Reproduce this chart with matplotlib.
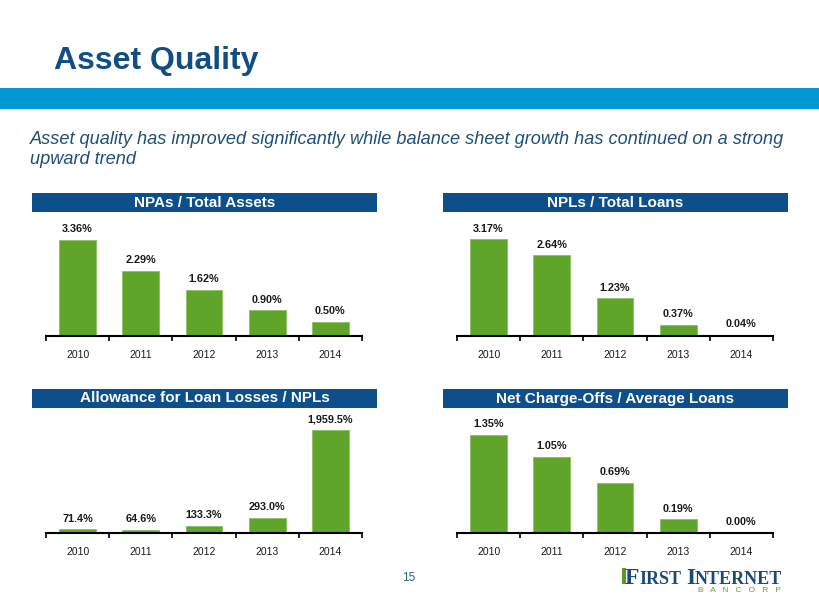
import matplotlib
matplotlib.use("Agg")
import matplotlib.pyplot as plt
from matplotlib.patches import Rectangle

# data
years = ["2010", "2011", "2012", "2013", "2014"]
npa_assets = [3.36, 2.29, 1.62, 0.90, 0.50]
npl_loans = [3.17, 2.64, 1.23, 0.37, 0.04]
allowance_npl = [71.4, 64.6, 133.3, 293.0, 1959.5]
nco_loans = [1.35, 1.05, 0.69, 0.19, 0.00]

panel_titles = ["NPAs / Total Assets", "NPLs / Total Loans",
                "Allowance for Loan Losses / NPLs", "Net Charge-Offs / Average Loans"]
panel_values = [npa_assets, npl_loans, allowance_npl, nco_loans]
panel_fmt = ["{:.2f}%", "{:.2f}%", "{:,.1f}%", "{:.2f}%"]
panel_ymax = [3.99, 3.73, 2169, 1.57]

W, H = 820, 615
NAVY = "#0D4F8B"
GREEN = "#5FA52A"
TITLE_BLUE = "#114E84"

plt.rcParams["font.family"] = ["Liberation Sans", "DejaVu Sans"]

fig = plt.figure(figsize=(W / 100, H / 100), dpi=100)


def fx(x):
    return x / W


def fy(y):
    return 1 - y / H


# title and band
fig.text(fx(54), fy(69), "Asset Quality", fontsize=23, fontweight="bold",
         color=TITLE_BLUE, va="baseline", ha="left")
fig.add_artist(Rectangle((0, fy(109)), 1, (109 - 88) / H, transform=fig.transFigure,
                         color="#0099D4", lw=0))

fig.text(fx(30), fy(144), "Asset quality has improved significantly while balance sheet growth has continued on a strong",
         fontsize=13.1, style="italic", color="#1F4E79", va="baseline")
fig.text(fx(30), fy(164), "upward trend",
         fontsize=13.1, style="italic", color="#1F4E79", va="baseline")

# panels: (axis left, baseline, header top)
layout = [(46, 336, 193), (457, 336, 193), (46, 533, 389), (457, 533, 389)]

for i, (x0, base, htop) in enumerate(layout):
    # header box
    fig.add_artist(Rectangle((fx(x0 - 14), fy(htop + 19)), 345 / W, 19 / H,
                             transform=fig.transFigure, color=NAVY, lw=0))
    fig.text(fx(x0 - 14 + 172.5), fy(htop + 9.5), panel_titles[i], color="white",
             fontsize=11, fontweight="bold", ha="center", va="center")

    ax = fig.add_axes([fx(x0), fy(base), 316 / W, 114 / H])
    vals = panel_values[i]
    bars = ax.bar(range(len(years)), vals, width=0.58, color=GREEN, edgecolor="#8CC063", lw=0.6)
    ax.set_xlim(-0.5, len(years) - 0.5)
    ax.set_ylim(0, panel_ymax[i])
    for b, v in zip(bars, vals):
        ax.annotate(panel_fmt[i].format(v), (b.get_x() + b.get_width() / 2, v),
                    xytext=(0, 4), textcoords="offset points", ha="center", va="bottom",
                    fontsize=7.8, fontweight="bold", color="#1A1A1A")
    for s in ["top", "right", "left"]:
        ax.spines[s].set_visible(False)
    ax.spines["bottom"].set_linewidth(1.5)
    ax.set_yticks([])
    ax.set_xticks(range(len(years)))
    ax.set_xticklabels(years, fontsize=7.5, color="#1A1A1A")
    ax.tick_params(axis="x", which="major", length=0, pad=10)
    ax.set_xticks([k - 0.5 for k in range(len(years) + 1)], minor=True)
    ax.tick_params(axis="x", which="minor", length=3.5, width=1.2, direction="out")
    ax.patch.set_alpha(0)

# page number
fig.text(fx(409), fy(578), "15", fontsize=8.5, color="#2E5F8A", ha="center", va="center")

# logo
fig.canvas.draw()
renderer = fig.canvas.get_renderer()
fig.add_artist(Rectangle((fx(622), fy(584)), 4 / W, 16 / H, transform=fig.transFigure,
                         color="#5A9A2A", lw=0))
pieces = [("F", 17), ("IRST", 13), (" ", 13), ("I", 17), ("NTERNET", 13)]
xcur = 625
for txt, size in pieces:
    t = fig.text(fx(xcur), fy(584), txt, fontsize=size, fontweight="bold",
                 family="Liberation Serif", color="#1B4A78", va="baseline", ha="left")
    bb = t.get_window_extent(renderer)
    xcur += bb.width
fig.text(fx(740), fy(591), "B   A   N   C   O   R   P", fontsize=6, color="#6A9A2E",
         ha="center", va="center")

fig.savefig("out.png", dpi=100)
